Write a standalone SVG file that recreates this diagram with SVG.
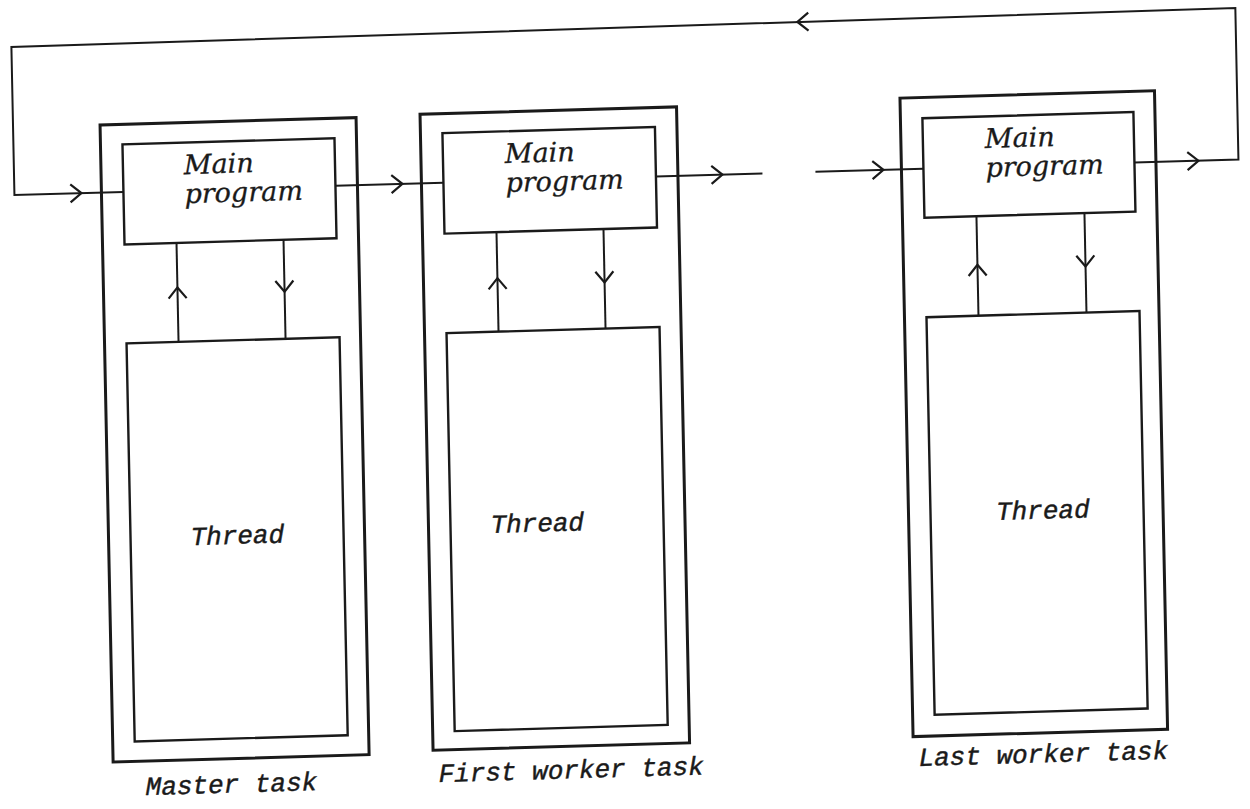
<svg xmlns="http://www.w3.org/2000/svg" width="1250" height="809" viewBox="0 0 1250 809">
  <defs>
    <style>
      .outer { fill: none; stroke: #1a1a1a; stroke-width: 3; }
      .inner { fill: none; stroke: #1a1a1a; stroke-width: 2.4; }
      .conn { fill: none; stroke: #1a1a1a; stroke-width: 2; }
      .chev { fill: none; stroke: #1a1a1a; stroke-width: 2.2; stroke-linejoin: miter; }
      .mp { font-family: "DejaVu Serif", "Liberation Serif", serif; font-style: italic; font-size: 27px; fill: #1a1a1a; stroke: #1a1a1a; stroke-width: 0.3; }
      .mono { font-family: "Liberation Mono", "DejaVu Sans Mono", monospace; font-style: italic; font-size: 26px; fill: #1a1a1a; stroke: #1a1a1a; stroke-width: 0.45; }
    </style>
    <path id="chev" d="M-11,-9 L0,0 L-11,9"/>
  </defs>
  <rect width="1250" height="809" fill="#ffffff"/>
  <g transform="translate(625 400) matrix(1 -0.029 0.0205 1 0 0) translate(-625 -400)">
    <g id="master-task">
      <rect class="outer" x="106" y="110" width="256" height="637"/>
      <g id="master-main">
        <rect class="inner" x="128" y="130" width="212" height="100"/>
        <text class="mp" x="189" y="161.5">Main</text>
        <text class="mp" x="189" y="190.5">program</text>
      </g>
      <g id="master-thread">
        <rect class="inner" x="128" y="329" width="213" height="398"/>
        <text class="mono" x="188" y="532.5">Thread</text>
      </g>
      <text class="mono" x="138" y="781">Master task</text>
    </g>
    <g id="first-worker-task">
      <rect class="outer" x="426" y="108.5" width="256.5" height="636"/>
      <g id="first-main">
        <rect class="inner" x="448" y="128" width="212.5" height="100.5"/>
        <text class="mp" x="510" y="159.7">Main</text>
        <text class="mp" x="510" y="188.7">program</text>
      </g>
      <g id="first-thread">
        <rect class="inner" x="448" y="328" width="213" height="398"/>
        <text class="mono" x="488" y="529">Thread</text>
      </g>
      <text class="mono" x="431" y="776.5">First worker task</text>
    </g>
    <g id="last-worker-task">
      <rect class="outer" x="906" y="106.3" width="254.5" height="638.5"/>
      <g id="last-main">
        <rect class="inner" x="928" y="127" width="211" height="99.5"/>
        <text class="mp" x="990" y="158.5">Main</text>
        <text class="mp" x="990" y="187.5">program</text>
      </g>
      <g id="last-thread">
        <rect class="inner" x="928" y="326" width="213" height="397.5"/>
        <text class="mono" x="993.5" y="530.7">Thread</text>
      </g>
      <text class="mono" x="911" y="774.3">Last worker task</text>
    </g>
    <g id="connectors">
      <polyline class="conn" points="1139,177.5 1243,177.5 1243,26 19,29.5 19,177.5 128,177.5"/>
      <line class="conn" x1="340" y1="177.5" x2="448" y2="177.5"/>
      <line class="conn" x1="660.5" y1="177.5" x2="767" y2="177.5"/>
      <line class="conn" x1="820" y1="177.5" x2="928" y2="177.5"/>
      <line class="conn" x1="180" y1="329" x2="180" y2="230"/>
      <line class="conn" x1="287" y1="230" x2="287" y2="329"/>
      <line class="conn" x1="500" y1="328" x2="500" y2="228.5"/>
      <line class="conn" x1="607" y1="228.5" x2="607" y2="328"/>
      <line class="conn" x1="980" y1="326" x2="980" y2="226.5"/>
      <line class="conn" x1="1088" y1="226.5" x2="1088" y2="326"/>
      <use href="#chev" class="chev" transform="translate(86 177.5)"/>
      <use href="#chev" class="chev" transform="translate(407 177.5)"/>
      <use href="#chev" class="chev" transform="translate(727 177.5)"/>
      <use href="#chev" class="chev" transform="translate(888 177.5)"/>
      <use href="#chev" class="chev" transform="translate(1203 177.5)"/>
      <use href="#chev" class="chev" transform="translate(805 27.2) rotate(180)"/>
      <use href="#chev" class="chev" transform="translate(180 274.5) rotate(-90)"/>
      <use href="#chev" class="chev" transform="translate(287 282) rotate(90)"/>
      <use href="#chev" class="chev" transform="translate(500 274.5) rotate(-90)"/>
      <use href="#chev" class="chev" transform="translate(607 282) rotate(90)"/>
      <use href="#chev" class="chev" transform="translate(980 275) rotate(-90)"/>
      <use href="#chev" class="chev" transform="translate(1088 280) rotate(90)"/>
    </g>
  </g>
</svg>
